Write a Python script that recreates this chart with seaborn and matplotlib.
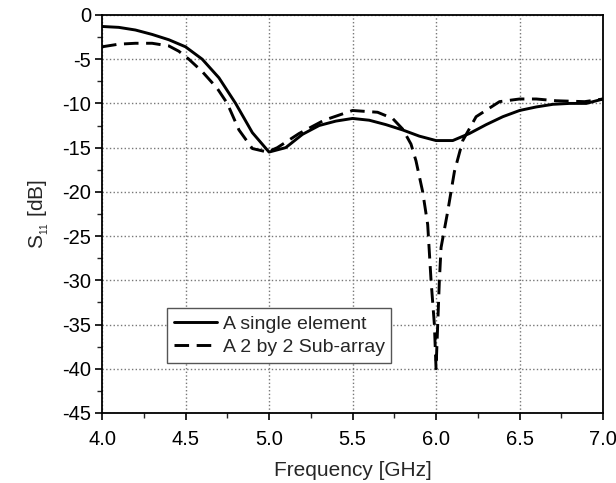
import numpy as np
import pandas as pd
import seaborn as sns
import matplotlib.pyplot as plt
from matplotlib.ticker import MultipleLocator

# single element S11
freq_single = [4.0, 4.1, 4.2, 4.3, 4.4, 4.5, 4.6, 4.7, 4.8, 4.9, 5.0, 5.1, 5.2,
               5.3, 5.4, 5.5, 5.6, 5.7, 5.8, 5.9, 6.0, 6.1, 6.2, 6.3, 6.4, 6.5,
               6.6, 6.7, 6.8, 6.9, 7.0]
s11_single = [-1.3, -1.4, -1.7, -2.2, -2.8, -3.6, -5.0, -7.1, -10.0, -13.3,
              -15.5, -15.0, -13.5, -12.5, -12.0, -11.7, -11.9, -12.4, -13.0,
              -13.7, -14.2, -14.2, -13.4, -12.4, -11.5, -10.8, -10.4, -10.1,
              -10.0, -10.0, -9.5]

# 2 by 2 sub-array S11
freq_array = [4.0, 4.1, 4.2, 4.3, 4.4, 4.46, 4.52, 4.6, 4.69, 4.75, 4.82, 4.9,
              4.99, 5.05, 5.18, 5.33, 5.5, 5.65, 5.74, 5.8, 5.85, 5.88, 5.92,
              5.95, 5.97, 5.99, 6.0, 6.01, 6.02, 6.03, 6.07, 6.11, 6.16, 6.24,
              6.38, 6.5, 6.6, 6.72, 6.89, 7.0]
s11_array = [-3.6, -3.3, -3.2, -3.2, -3.5, -4.1, -5.0, -6.4, -8.3, -10.0, -13.0,
             -15.1, -15.5, -15.0, -13.4, -11.9, -10.8, -11.0, -11.7, -12.9,
             -14.6, -16.5, -20.0, -23.7, -30.0, -35.0, -40.0, -35.0, -30.0,
             -26.3, -22.2, -17.7, -14.2, -11.5, -9.8, -9.5, -9.5, -9.7, -9.8,
             -9.5]

labels = ["A single element", "A 2 by 2 Sub-array"]
dash = (5, 2.6)

sns.set_style("ticks")
plt.rcParams["font.family"] = ["Liberation Sans", "DejaVu Sans"]
plt.rcParams["mathtext.default"] = "regular"
plt.rcParams["axes.unicode_minus"] = False

fig = plt.figure(figsize=(6.16, 4.83), dpi=100)
ax = fig.add_axes([0.1656, 0.145, 0.8134, 0.824])

sns.lineplot(x=freq_single, y=s11_single, ax=ax, color="black", lw=2.1,
             label=labels[0], sort=False)
sns.lineplot(x=freq_array, y=s11_array, ax=ax, color="black", lw=2.1,
             label=labels[1], sort=False)
ax.lines[1].set_dashes(dash)

ax.set_xlim(4.0, 7.0)
ax.set_ylim(-45, 0)
ax.xaxis.set_major_locator(MultipleLocator(0.5))
ax.xaxis.set_minor_locator(MultipleLocator(0.25))
ax.yaxis.set_major_locator(MultipleLocator(5))
ax.yaxis.set_minor_locator(MultipleLocator(2.5))
ax.xaxis.set_major_formatter(plt.FormatStrFormatter("%.1f"))

ax.grid(True, which="major", linestyle=":", color="#777777", lw=1.0)
for s in ax.spines.values():
    s.set_visible(True)
    s.set_linewidth(1.3)
    s.set_color("black")

ax.tick_params(which="major", direction="out", length=5, width=1.2,
               labelsize=14.5, colors="black", pad=3)
ax.tick_params(axis="x", which="major", pad=7)
ax.tick_params(which="minor", direction="out", length=3.5, width=1.0)

ax.set_xlabel("Frequency [GHz]", fontsize=15, labelpad=9)
ax.set_ylabel("S$_{_{11}}$ [dB]", fontsize=15, labelpad=8)

leg = ax.legend(loc="lower left", bbox_to_anchor=(0.13, 0.126),
                borderaxespad=0, fontsize=14, fancybox=False,
                edgecolor="#555555", framealpha=1, handlelength=2.2,
                handletextpad=0.3, borderpad=0.35, labelspacing=0.3)
leg.get_frame().set_linewidth(1.0)
leg.legend_handles[1].set_dashes(dash)

fig.savefig("out.png", dpi=100)
